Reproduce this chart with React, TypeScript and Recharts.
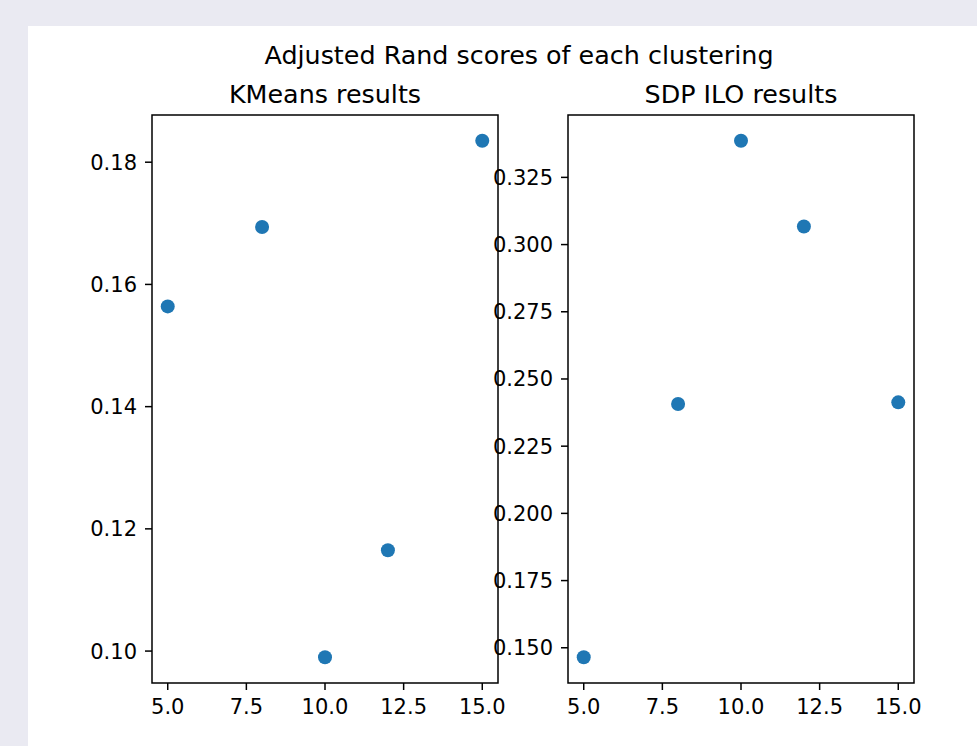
import { ScatterChart, Scatter, XAxis, YAxis, ReferenceArea } from "recharts"

// cluster counts tried (x) and the score each method got
const clusterCounts = [5, 8, 10, 12, 15]
const kmeansScores = [0.1564, 0.1694, 0.099, 0.1165, 0.1835]
const sdpScores = [0.1465, 0.2407, 0.3386, 0.3067, 0.2413]

const xTicks = [5, 7.5, 10, 12.5, 15]
const kmeansTicks = [0.1, 0.12, 0.14, 0.16, 0.18]
const sdpTicks = [0.15, 0.175, 0.2, 0.225, 0.25, 0.275, 0.3, 0.325]

const FONT = "'DejaVu Sans', sans-serif"
const DOT = "#1f77b4"

// matplotlib style 5% margin around the data
function padded(values: number[]): [number, number] {
  const lo = Math.min(...values)
  const hi = Math.max(...values)
  const p = (hi - lo) * 0.05
  return [lo - p, hi + p]
}

interface PanelProps {
  scores: number[]
  ticks: number[]
  digits: number
  left: number
  width: number
  yAxisWidth: number
  marginRight: number
}

function ScorePanel({ scores, ticks, digits, left, width, yAxisWidth, marginRight }: PanelProps) {
  const data = clusterCounts.map((x, i) => ({ x, y: scores[i] }))
  const xDomain = padded(clusterCounts)
  const yDomain = padded(scores)
  const tickStyle = { fontSize: 21, fill: "#000", fontFamily: FONT }
  const tickLine = { stroke: "#000", strokeWidth: 1.5 }

  return (
    <div style={{ position: "absolute", left, top: 26 }}>
      <ScatterChart
        width={width}
        height={720}
        margin={{ top: 89, right: marginRight, bottom: 23, left: 0 }}
      >
        <ReferenceArea
          x1={xDomain[0]}
          x2={xDomain[1]}
          y1={yDomain[0]}
          y2={yDomain[1]}
          fill="none"
          fillOpacity={0}
          stroke="#000"
          strokeWidth={1.5}
        />
        <XAxis
          type="number"
          dataKey="x"
          domain={xDomain}
          ticks={xTicks}
          allowDataOverflow
          height={40}
          axisLine={false}
          tickLine={tickLine}
          tickSize={7}
          tickMargin={9}
          tick={tickStyle}
          tickFormatter={(v: number) => v.toFixed(1)}
        />
        <YAxis
          type="number"
          dataKey="y"
          domain={yDomain}
          ticks={ticks}
          allowDataOverflow
          width={yAxisWidth}
          axisLine={false}
          tickLine={tickLine}
          tickSize={7}
          tickMargin={8}
          tick={tickStyle}
          tickFormatter={(v: number) => v.toFixed(digits)}
        />
        <Scatter
          data={data}
          isAnimationActive={false}
          shape={(p: any) => <circle cx={p.cx} cy={p.cy} r={7} fill={DOT} />}
        />
      </ScatterChart>
    </div>
  )
}

export default function App() {
  return (
    <div
      style={{
        position: "fixed",
        left: 0,
        top: 0,
        width: 977,
        height: 746,
        background: "#eaeaf2",
        fontFamily: FONT,
      }}
    >
      <div style={{ position: "absolute", left: 28, top: 26, width: 949, height: 720, background: "#fff" }} />
      <ScorePanel scores={kmeansScores} ticks={kmeansTicks} digits={2} left={28} width={480} yAxisWidth={124} marginRight={10} />
      <ScorePanel scores={sdpScores} ticks={sdpTicks} digits={3} left={480} width={460} yAxisWidth={88} marginRight={26} />
      <svg
        width={977}
        height={746}
        style={{ position: "absolute", left: 0, top: 0, pointerEvents: "none" }}
      >
        <g fontFamily={FONT} fill="#000" textAnchor="middle" fontSize={25.4}>
          <text x={519} y={63.5}>Adjusted Rand scores of each clustering</text>
          <text x={325} y={102.7}>KMeans results</text>
          <text x={741} y={102.7}>SDP ILO results</text>
        </g>
      </svg>
    </div>
  )
}
